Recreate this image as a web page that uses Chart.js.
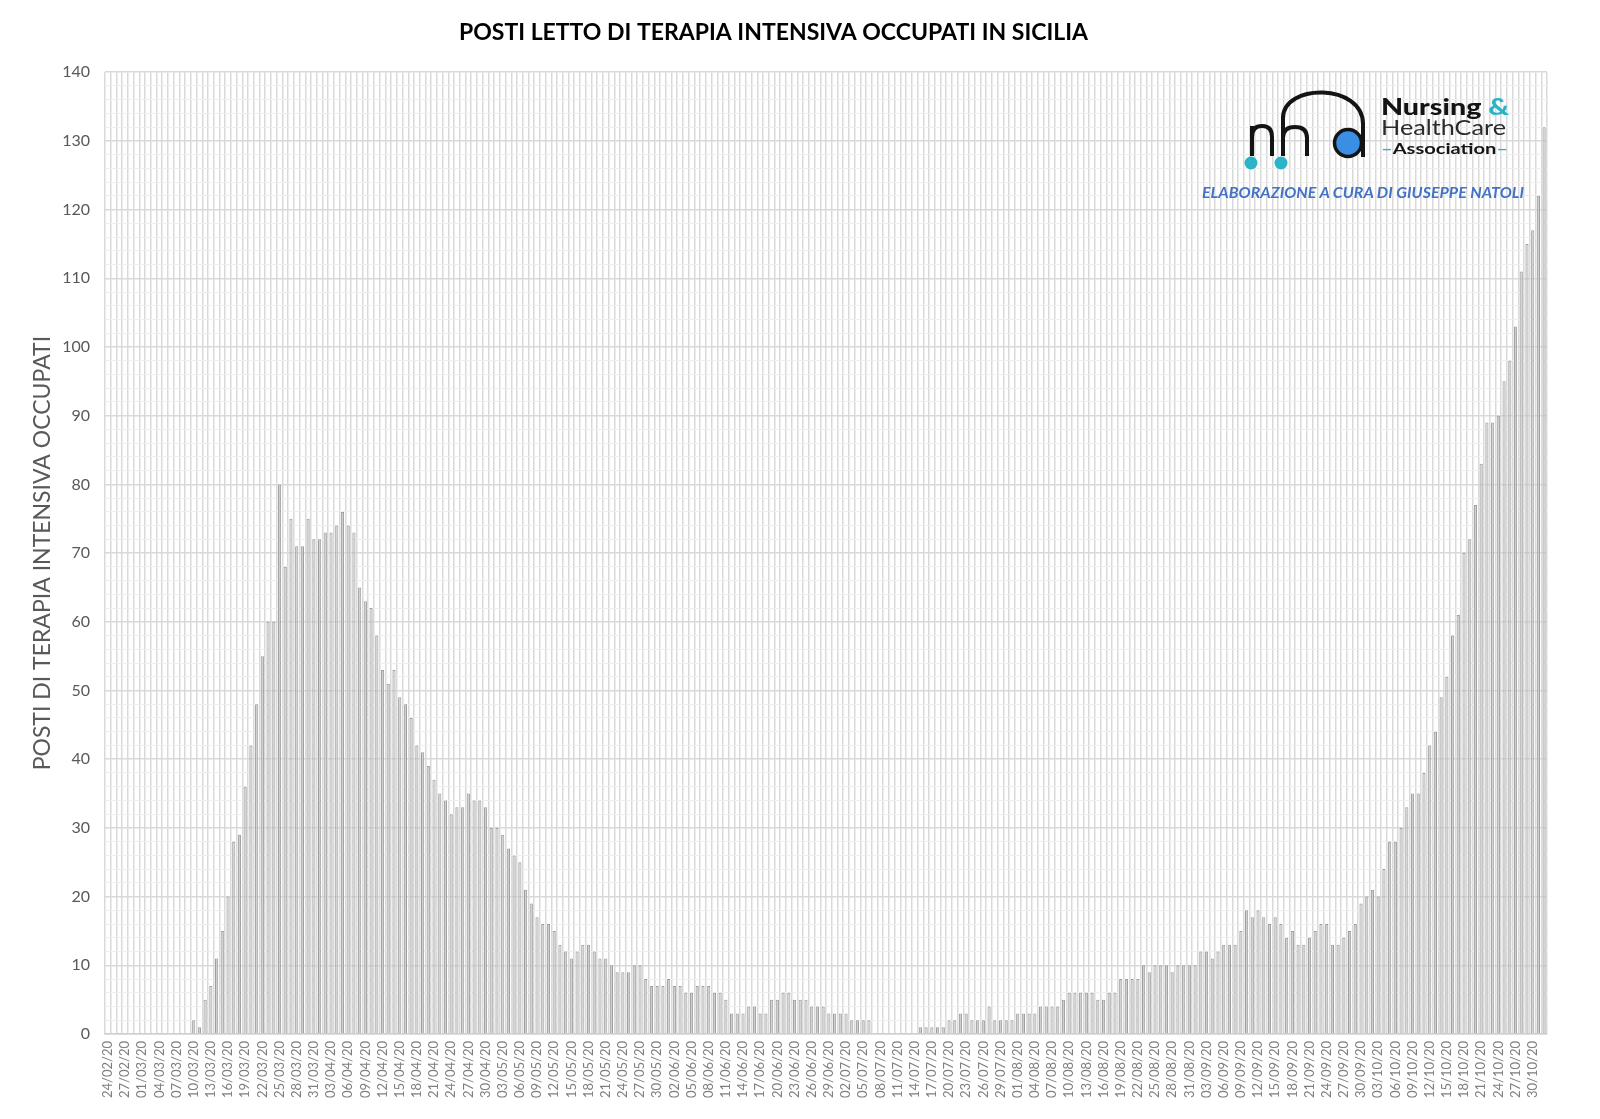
<!DOCTYPE html>
<html><head><meta charset="utf-8">
<script src="https://cdn.jsdelivr.net/npm/chart.js@4.4.1/dist/chart.umd.min.js"></script>
<style>
html,body{margin:0;padding:0;background:#fff;}
#wrap{position:relative;width:1600px;height:1119px;overflow:hidden;}
#c{position:absolute;left:0;top:0;}
#logo{position:absolute;left:0;top:0;pointer-events:none;}
</style></head><body>
<div id="wrap">
<canvas id="c" width="1600" height="1119"></canvas>
<svg id="logo" width="1600" height="1119" viewBox="0 0 1600 1119" xmlns="http://www.w3.org/2000/svg">
  <g fill="none" stroke="#141414" stroke-width="4">
    <path d="M1252 126 V156"/>
    <path d="M1252 137 Q1252 126 1262 126 Q1272 126 1272 137 V156"/>
    <path d="M1283 116 V156"/>
    <path d="M1283 138 Q1283 127 1295 127 Q1307 127 1307 138 V156"/>
    <path d="M1283 118 C1283 83 1363 83 1363 124"/>
    <path d="M1363 122 V157"/>
  </g>
  <circle cx="1348" cy="143" r="13.5" fill="#3a8fe4" stroke="#141414" stroke-width="3.5"/>
  <circle cx="1251" cy="163" r="6.5" fill="#2bb3c8"/>
  <circle cx="1281" cy="163" r="6.5" fill="#2bb3c8"/>
  <text x="1381" y="115" font-family="Lato" font-weight="900" font-size="22" fill="#141414" textLength="128" lengthAdjust="spacingAndGlyphs">Nursing <tspan fill="#2bb3c8">&amp;</tspan></text>
  <text x="1381" y="135" font-family="Lato" font-weight="400" font-size="22" fill="#2a2a2a" textLength="125" lengthAdjust="spacingAndGlyphs">HealthCare</text>
  <text x="1381" y="154" font-family="Lato" font-weight="700" font-size="15" fill="#141414" textLength="127" lengthAdjust="spacingAndGlyphs"><tspan fill="#2bb3c8">–</tspan>Association<tspan fill="#2bb3c8">–</tspan></text>
  <text x="1202" y="198" font-family="Lato" font-style="italic" font-weight="700" font-size="15" fill="#4472c4" textLength="322" lengthAdjust="spacingAndGlyphs">ELABORAZIONE A CURA DI GIUSEPPE NATOLI</text>
</svg>
</div>
<script>
const chartTitle = 'POSTI LETTO DI TERAPIA INTENSIVA OCCUPATI IN SICILIA';
const yAxisTitle = 'POSTI DI TERAPIA INTENSIVA OCCUPATI';

// month, first day, last day (year 2020)
const monthSpans = [
  ['02', 24, 29], ['03', 1, 31], ['04', 1, 30], ['05', 1, 31], ['06', 1, 30],
  ['07', 1, 31], ['08', 1, 31], ['09', 1, 30], ['10', 1, 31], ['11', 1, 1]
];
const dates = [];
monthSpans.forEach(([m, a, b]) => {
  for (let d = a; d <= b; d++) dates.push(String(d).padStart(2, '0') + '/' + m + '/20');
});

// ICU beds occupied, one value per day (24/02/20 .. 01/11/20)
const febMar = [0,0,0,0,0,0,0,0,0,0,0,0,0,0,0,
  2,1,5,7,11,15,20,28,29,36,42,48,55,60,60,80,68,75,71,71,75,72,72,73,73,74,76,74,73,65,63,62,58];
const aprMay = [53,51,53,49,48,46,42,41,39,37,35,34,32,33,33,35,34,34,33,30,30,29,27,26,25,21,19,17,16,16,15,13,12,11,12];
const mayJul = [13,13,12,11,11,10,9,9,9,10,10,8,7,7,7,8,7,7,6,6,7,7,7,6,6,5,3,3,3,4,4,3,3,5,5,6,6,5,5,5,4,4,4,3,3,3,3,2,2,2,2];
const julAug = [0,0,0,0,0,0,0,0,
  1,1,1,1,1,2,2,3,3,2,2,2,4,2,2,2,2,3,3,3,3,4,4,4,4,5,6,6,6,6,6,5,5,6,6,8,8,8,8,10,9,10,10,10,9,10,10,10,10];
const sepOct = [12,12,11,12,13,13,13,15,18,17,18,17,16,17,16,14,15,13,13,14,15,16,16,13,13];
const octNov = [14,15,16,19,20,21,20,24,28,28,30,33,35,35,38,42,44,49,52,58,61,70,72,77,83,89,89,90,95,98,103,111,115,117,122,132];
const occupied = [].concat(febMar, aprMay, mayJul, julAug, sepOct, octNov);

const yMin = 0, yMax = 140, yStep = 2, yLabelStep = 10, xLabelStep = 3;

new Chart(document.getElementById('c'), {
  type: 'bar',
  data: {
    labels: dates,
    datasets: [{
      data: occupied,
      backgroundColor: '#cfcfcf',
      borderColor: '#9e9e9e',
      borderWidth: 1,
      barPercentage: 0.55,
      categoryPercentage: 1
    }]
  },
  options: {
    responsive: false,
    animation: false,
    devicePixelRatio: 1,
    layout: { padding: { left: 0, right: 53, top: 0, bottom: 0 } },
    plugins: {
      legend: { display: false },
      tooltip: { enabled: false },
      title: {
        display: true, text: chartTitle, color: '#000',
        font: { family: 'Lato', size: 23, weight: 'bold' },
        padding: { top: 19, bottom: 25.6 }
      }
    },
    scales: {
      x: {
        offset: true,
        grid: { color: '#d9d9d9', lineWidth: 1.5, drawTicks: false, offset: true },
        border: { color: '#cfcfcf', width: 1.5 },
        ticks: {
          autoSkip: false, maxRotation: 90, minRotation: 90, padding: 7,
          color: '#7f7f7f', font: { family: 'Lato', size: 13 },
          callback: (v, i) => (i % xLabelStep === 0 ? dates[i] : '')
        },
        afterFit: s => { s.height = 85; }
      },
      y: {
        min: yMin, max: yMax,
        grid: {
          color: c => (c.tick.value % yLabelStep === 0 ? '#d9d9d9' : '#eeeeee'),
          lineWidth: c => (c.tick.value % yLabelStep === 0 ? 1.5 : 1),
          drawTicks: false
        },
        border: { display: false },
        ticks: {
          stepSize: yStep, autoSkip: false, padding: 15,
          color: '#595959', font: { family: 'Lato', size: 16 },
          callback: v => (v % yLabelStep === 0 ? v : '')
        },
        title: {
          display: true, text: yAxisTitle, color: '#595959',
          font: { family: 'Lato', size: 23 },
          padding: { top: 29, bottom: 0 }
        },
        afterFit: s => { s.width = 105; }
      }
    }
  }
});
</script>
</body></html>
